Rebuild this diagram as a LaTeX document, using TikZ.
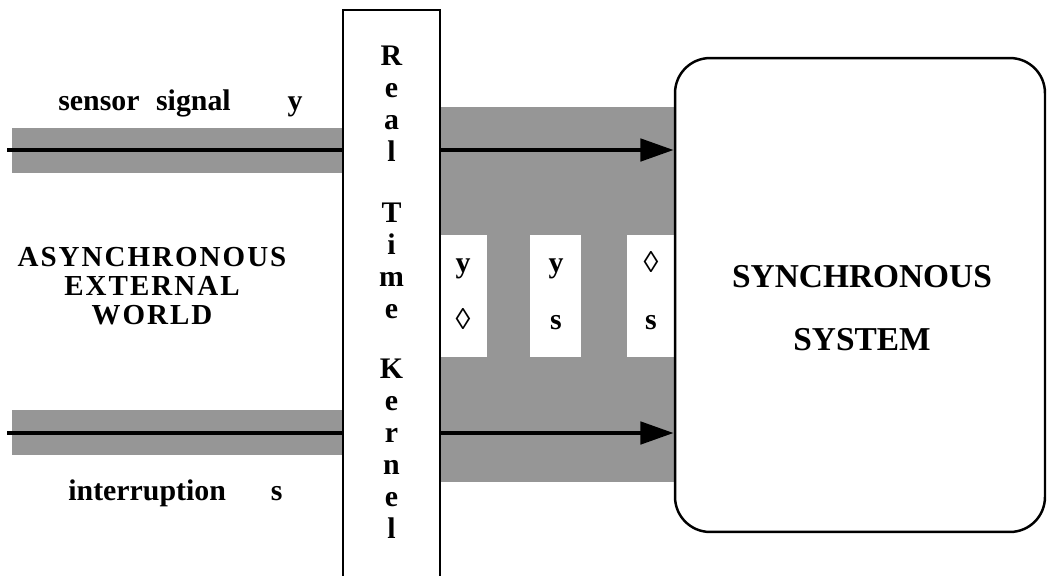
\documentclass[tikz,border=0pt]{standalone}
\usepackage{fontspec}
\setmainfont{Liberation Serif}
\newfontfamily\spacedserif[LetterSpace=7]{Liberation Serif}
\usetikzlibrary{arrows.meta}
\definecolor{Screengray}{RGB}{150,150,150}

\begin{document}
\begin{tikzpicture}[x=0.02cm, y=-0.02cm,
    band/.style={fill=Screengray},
    sig/.style={line width=2.8pt},
    tip/.style={-{Triangle[length=19pt,width=12.5pt]}},
    lbl/.style={font=\fontsize{17}{17}\selectfont\bfseries, inner sep=0pt},
    caps/.style={font=\fontsize{19}{14}\selectfont\bfseries, align=center, inner sep=0pt},
    letter/.style={font=\fontsize{17}{17}\selectfont\bfseries, inner sep=0pt}]
  \useasboundingbox (0,0) rectangle (1050,575);
  % shaded channels
  \fill[band] (12,128) rectangle (343,173);
  \fill[band] (12,410) rectangle (343,455);
  \fill[band] (440,107) rectangle (675,482);
  \fill[white] (440,235) rectangle (487,357);
  \fill[white] (530,235) rectangle (581,357);
  \fill[white] (627,235) rectangle (675,357);
  % boxes
  \node[draw, line width=1.4pt, minimum width=1.94cm, minimum height=11.5cm] (kernel) at (391.5,297.5) {};
  \node[draw, line width=1.4pt, rounded corners=0.7cm, minimum width=7.4cm, minimum height=9.48cm] (sync) at (860,295) {};
  \foreach \ch/\yy [count=\i] in {R/65,e/97,a/129,l/161,T/222,i/254,m/286,e/318,K/378,e/410,r/442,n/474,e/506,l/538}{
      \node[letter, anchor=base] (k\i) at (391.5,\yy) {\ch};
  }
  \node[letter, anchor=base] (w1a) at (463,272) {y};
  \node[letter, anchor=base] (w1b) at (463,329) {◊};
  \node[letter, anchor=base] (w2a) at (556,272) {y};
  \node[letter, anchor=base] (w2b) at (556,329) {s};
  \node[letter, anchor=base] (w3a) at (651,272) {◊};
  \node[letter, anchor=base] (w3b) at (651,329) {s};
  % signals
  \coordinate (yin) at (7,150);
  \coordinate (sin) at (7,433);
  \draw[sig] (yin) -- (yin -| kernel.west);
  \draw[sig] (sin) -- (sin -| kernel.west);
  \draw[sig, tip] (yin -| kernel.east) -- (yin -| sync.west);
  \draw[sig, tip] (sin -| kernel.east) -- (sin -| sync.west);
  % labels
  \node[lbl, anchor=west] (ylabel) at (58,103) {sensor\hspace{0.55em}signal\hspace{1.9em}y};
  \node[lbl, anchor=west] (slabel) at (68,493) {interruption\hspace{1.5em}s};
  \node[caps, font=\fontsize{16.5}{16.5}\spacedserif\bfseries] (world) at (152,286) {ASYNCHRONOUS\\EXTERNAL\\WORLD};
  \node[caps, font=\fontsize{19}{36}\selectfont\bfseries] (synctext) at (862,308) {SYNCHRONOUS\\SYSTEM};
\end{tikzpicture}
\end{document}
